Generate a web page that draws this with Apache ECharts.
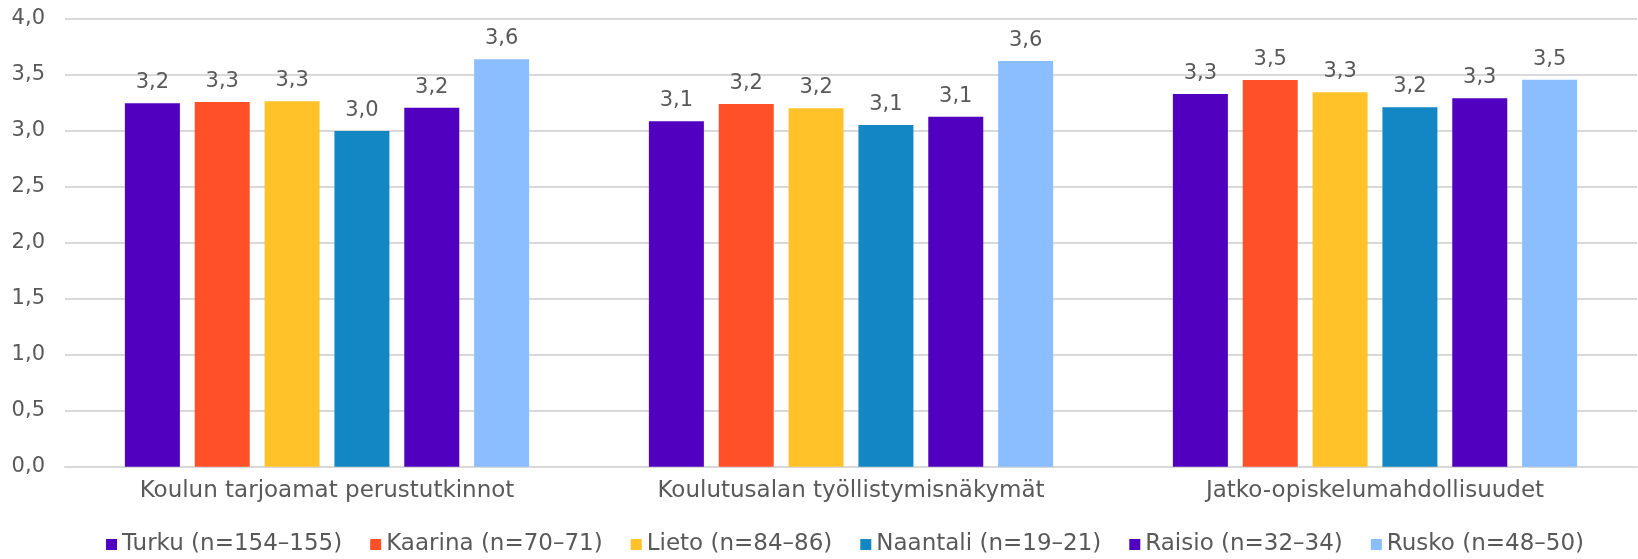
<!DOCTYPE html>
<html>
<head>
<meta charset="utf-8">
<script src="https://cdn.jsdelivr.net/npm/echarts@6/dist/echarts.min.js"></script>
<style>
html,body{margin:0;padding:0;background:#fff;}
#c{width:1638px;height:559px;}
</style>
</head>
<body>
<div id="c"></div>
<script>
const categories = ['Koulun tarjoamat perustutkinnot', 'Koulutusalan työllistymisnäkymät', 'Jatko-opiskelumahdollisuudet'];
const seriesNames = ['Turku (n=154–155)', 'Kaarina (n=70–71)', 'Lieto (n=84–86)', 'Naantali (n=19–21)', 'Raisio (n=32–34)', 'Rusko (n=48–50)'];
const turku = [3.244, 3.084, 3.328];
const kaarina = [3.256, 3.238, 3.452];
const lieto = [3.263, 3.200, 3.343];
const naantali = [2.997, 3.051, 3.209];
const raisio = [3.205, 3.125, 3.289];
const rusko = [3.638, 3.622, 3.455];
const yTicks = [0, 0.5, 1, 1.5, 2, 2.5, 3, 3.5, 4];

const colors = ['#5000BE', '#FF5028', '#FFC229', '#1287C3', '#5000BE', '#8ABEFF'];
const values = [turku, kaarina, lieto, naantali, raisio, rusko];
const FONT = 'DejaVu Sans';
const TXT = '#595959';
const fmt = v => v.toFixed(1).replace('.', ',');

const chart = echarts.init(document.getElementById('c'), null, {renderer: 'canvas'});
chart.setOption({
  animation: false,
  color: colors,
  textStyle: {fontFamily: FONT},
  grid: {left: 65, right: 1, top: 18.7, bottom: 92.3, containLabel: false},
  legend: {
    data: seriesNames,
    bottom: -2,
    left: 101,
    itemWidth: 11,
    itemHeight: 11,
    itemGap: 28,
    icon: 'rect',
    textStyle: {fontFamily: FONT, fontSize: 23, color: TXT}
  },
  xAxis: {
    type: 'category',
    data: categories,
    axisLine: {show: true, lineStyle: {color: '#D9D9D9', width: 2}},
    axisTick: {show: false},
    axisLabel: {fontFamily: FONT, fontSize: 23, color: TXT, margin: 13}
  },
  yAxis: {
    type: 'value',
    min: yTicks[0],
    max: yTicks[yTicks.length - 1],
    interval: 0.5,
    axisLine: {show: false},
    axisTick: {show: false},
    splitLine: {lineStyle: {color: '#D9D9D9', width: 2}},
    axisLabel: {fontFamily: FONT, fontSize: 21, color: TXT, margin: 20, formatter: v => v.toFixed(1).replace('.', ',')}
  },
  series: seriesNames.map((name, i) => ({
    name: name,
    type: 'bar',
    data: values[i],
    barWidth: 55,
    barGap: '27%',
    itemStyle: {color: colors[i]},
    label: {
      show: true,
      position: 'top',
      distance: 10,
      fontFamily: FONT,
      fontSize: 21,
      color: TXT,
      formatter: p => fmt(p.value)
    }
  }))
});
</script>
</body>
</html>
